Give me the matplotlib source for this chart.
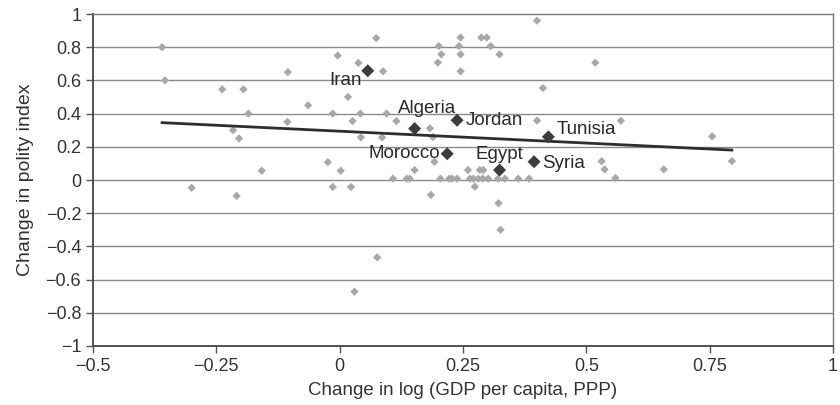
import matplotlib
matplotlib.use("Agg")
import matplotlib.pyplot as plt
import numpy as np

plt.rcParams['font.family'] = ['Liberation Sans', 'DejaVu Sans']

# change in log GDP per capita (x) vs change in polity index (y), other countries
other_x = [-0.36, -0.354, -0.004, -0.105, -0.238, -0.195, -0.064, -0.185, -0.014,
           -0.106, -0.216, -0.204, -0.024, -0.158, -0.30, -0.209, -0.014, 0.023,
           0.002, 0.074, 0.038, 0.088, 0.017, 0.042, 0.095, 0.026, 0.115, 0.043,
           0.086, 0.40, 0.245, 0.287, 0.298, 0.201, 0.242, 0.306, 0.206, 0.245,
           0.324, 0.199, 0.245, 0.412, 0.40, 0.183, 0.189, 0.192, 0.152, 0.26,
           0.284, 0.291, 0.274, 0.185, 0.322, 0.326, 0.076, 0.03, 0.518, 0.57,
           0.755, 0.795, 0.531, 0.537, 0.657, 0.559,
           0.108, 0.136, 0.142, 0.204, 0.222, 0.228, 0.238, 0.264, 0.271, 0.281,
           0.29, 0.301, 0.321, 0.335, 0.362, 0.384]
other_y = [0.80, 0.60, 0.75, 0.65, 0.546, 0.546, 0.45, 0.40, 0.40,
           0.35, 0.30, 0.25, 0.108, 0.056, -0.047, -0.096, -0.042, -0.042,
           0.056, 0.855, 0.705, 0.655, 0.50, 0.40, 0.40, 0.355, 0.355, 0.257,
           0.257, 0.96, 0.858, 0.858, 0.858, 0.807, 0.807, 0.807, 0.757, 0.757,
           0.757, 0.707, 0.655, 0.554, 0.358, 0.311, 0.259, 0.11, 0.06, 0.06,
           0.06, 0.06, -0.04, -0.09, -0.14, -0.30, -0.466, -0.673, 0.707, 0.357,
           0.263, 0.114, 0.113, 0.064, 0.064, 0.012,
           0.008, 0.008, 0.008, 0.008, 0.008, 0.008, 0.008, 0.008, 0.008, 0.008,
           0.008, 0.008, 0.008, 0.008, 0.008, 0.008]

# MENA countries
mena_names = ["Iran", "Algeria", "Jordan", "Tunisia", "Morocco", "Egypt", "Syria"]
mena_x = [0.057, 0.152, 0.238, 0.423, 0.218, 0.324, 0.394]
mena_y = [0.658, 0.31, 0.36, 0.26, 0.158, 0.06, 0.11]

# fitted line
fit_intercept = 0.294
fit_slope = -0.143

x_ticks = [-0.5, -0.25, 0, 0.25, 0.5, 0.75, 1]
y_ticks = [1, 0.8, 0.6, 0.4, 0.2, 0, -0.2, -0.4, -0.6, -0.8, -1]

# label offsets in points (dx, dy, ha, va)
label_pos = {
    "Iran": (-4, -1, "right", "top"),
    "Algeria": (-12, 8, "left", "bottom"),
    "Jordan": (6, 0, "left", "center"),
    "Tunisia": (6, 5, "left", "center"),
    "Morocco": (-5, 0, "right", "center"),
    "Egypt": (0, 5, "center", "bottom"),
    "Syria": (6, -1, "left", "center"),
}


def fmt(v):
    s = "{:g}".format(abs(v))
    return ("\u2212" + s) if v < 0 else s


fig = plt.figure(figsize=(8.4, 4.05), dpi=100)
ax = fig.add_axes([0.1107, 0.1457, 0.8810, 0.8197])

for t in y_ticks:
    if -1 < t < 1:
        ax.axhline(t, color="#8a8a8a", lw=1.0, zorder=1)

ax.scatter(other_x, other_y, marker="D", s=18, color="#a8a8a8", edgecolors="none", zorder=2)

xs = np.array([min(other_x + mena_x), max(other_x + mena_x)])
ax.plot(xs, fit_intercept + fit_slope * xs, color="#2e2e2e", lw=2.0, zorder=3)

ax.scatter(mena_x, mena_y, marker="D", s=44, color="#3c3c3c", edgecolors="none", zorder=4)
for name, x, y in zip(mena_names, mena_x, mena_y):
    dx, dy, ha, va = label_pos[name]
    ax.annotate(name, (x, y), xytext=(dx, dy), textcoords="offset points",
                ha=ha, va=va, fontsize=13.5, color="#2a2a2a", zorder=5)

ax.set_xlim(-0.5, 1)
ax.set_ylim(-1, 1)
ax.set_xticks(x_ticks)
ax.set_xticklabels([fmt(v) for v in x_ticks])
ax.set_yticks(y_ticks)
ax.set_yticklabels([fmt(v) for v in y_ticks])
ax.tick_params(axis="both", direction="out", length=5, width=1, color="#555555",
               labelsize=13, labelcolor="#333333")
ax.tick_params(axis="x", pad=4)

for side in ["left", "bottom"]:
    ax.spines[side].set_color("#444444")
    ax.spines[side].set_linewidth(1.3)
for side in ["top", "right"]:
    ax.spines[side].set_color("#777777")
    ax.spines[side].set_linewidth(1.0)

ax.set_xlabel("Change in log (GDP per capita, PPP)", fontsize=13.5, color="#333333", labelpad=5)
ax.set_ylabel("Change in polity index", fontsize=14, color="#333333", labelpad=8)

fig.savefig("out.png", dpi=100)
